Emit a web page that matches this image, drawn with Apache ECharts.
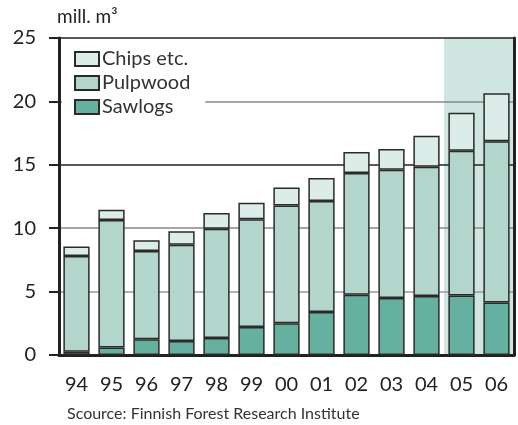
<!DOCTYPE html>
<html>
<head>
<meta charset="utf-8">
<script src="https://cdn.jsdelivr.net/npm/echarts@6/dist/echarts.min.js"></script>
<style>
  html, body { margin: 0; padding: 0; background: #fff; }
  #chart { width: 518px; height: 425px; }
</style>
</head>
<body>
<div id="chart"></div>
<script>
const years = ["94", "95", "96", "97", "98", "99", "00", "01", "02", "03", "04", "05", "06"];
const sawlogs = [0.25, 0.6, 1.25, 1.1, 1.35, 2.2, 2.5, 3.4, 4.75, 4.5, 4.65, 4.7, 4.15];
const pulpwood = [7.55, 10.05, 6.95, 7.6, 8.6, 8.5, 9.3, 8.75, 9.6, 10.1, 10.2, 11.4, 12.7];
const chips = [0.75, 0.8, 0.85, 1.05, 1.25, 1.3, 1.4, 1.8, 1.65, 1.65, 2.45, 3.0, 3.8];
// forecast years shaded in the background
const shaded = [null, null, null, null, null, null, null, null, null, null, null, 25, 25];

const font = "Lato, 'Open Sans', sans-serif";
const chart = echarts.init(document.getElementById("chart"));

const barStyle = (color) => ({
  color: color,
  borderColor: "#2a2a2a",
  borderWidth: 1.5
});

chart.setOption({
  animation: false,
  textStyle: { fontFamily: font },
  title: {
    text: "Scource: Finnish Forest Research Institute",
    left: 62,
    top: 401,
    textStyle: { fontSize: 16, fontWeight: "normal", color: "#333", fontFamily: font }
  },
  legend: {
    data: ["Chips etc.", "Pulpwood", "Sawlogs"],
    orient: "vertical",
    left: 62,
    top: 45,
    padding: [4, 15, 4, 12],
    backgroundColor: "#fff",
    icon: "rect",
    itemWidth: 24,
    itemHeight: 14,
    itemGap: 4,
    textStyle: { fontSize: 20, color: "#333", fontFamily: font, padding: [0, 0, 0, -2] }
  },
  grid: { left: 59, right: 4, top: 38, bottom: 70 },
  xAxis: [
    {
      type: "category",
      data: years,
      axisLine: { lineStyle: { color: "#222", width: 3 } },
      axisTick: { show: false },
      axisLabel: { fontSize: 20, color: "#222", margin: 20, fontFamily: font }
    },
    {
      type: "category",
      data: years,
      position: "top",
      axisLine: { lineStyle: { color: "#222", width: 2.5 } },
      axisTick: { show: false },
      axisLabel: { show: false }
    }
  ],
  yAxis: [
    {
      type: "value",
      min: 0,
      max: 25,
      interval: 5,
      name: "mill. m³",
      nameLocation: "end",
      nameGap: 12,
      nameTextStyle: { fontSize: 19, color: "#222", align: "left", fontFamily: font, padding: [0, 0, 0, -2] },
      axisLine: { show: true, lineStyle: { color: "#222", width: 3 } },
      axisTick: { show: true, length: 10, lineStyle: { color: "#222", width: 2 } },
      axisLabel: { fontSize: 20, color: "#222", margin: 23, fontFamily: font },
      splitLine: {
        show: true,
        lineStyle: { color: ["#222", "#999", "#888", "#222", "#888", "#222"], width: 1.5 }
      }
    },
    {
      type: "value",
      min: 0,
      max: 25,
      interval: 5,
      position: "right",
      axisLine: { show: true, lineStyle: { color: "#222", width: 3 } },
      axisTick: { show: false },
      axisLabel: { show: false },
      splitLine: { show: false }
    }
  ],
  series: [
    {
      name: "forecast",
      type: "bar",
      xAxisIndex: 1,
      data: shaded,
      barCategoryGap: "0%",
      silent: true,
      z: -1,
      itemStyle: { color: "#cfe5df" }
    },
    {
      name: "Sawlogs",
      type: "bar",
      stack: "total",
      data: sawlogs,
      barCategoryGap: "25%",
      itemStyle: barStyle("#66b0a0")
    },
    {
      name: "Pulpwood",
      type: "bar",
      stack: "total",
      data: pulpwood,
      itemStyle: barStyle("#b3d6cc")
    },
    {
      name: "Chips etc.",
      type: "bar",
      stack: "total",
      data: chips,
      itemStyle: barStyle("#dcece8")
    }
  ]
});
</script>
</body>
</html>
